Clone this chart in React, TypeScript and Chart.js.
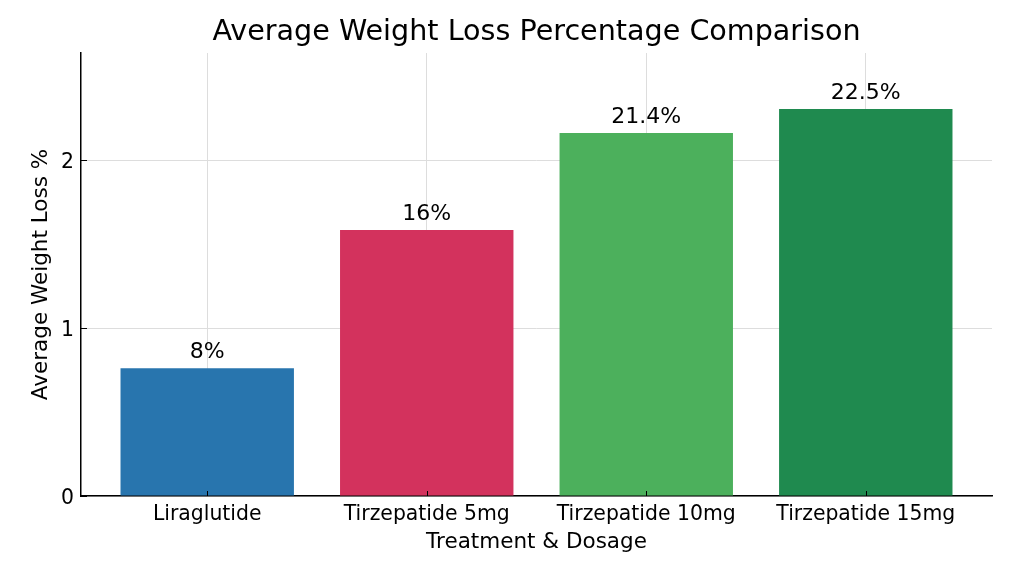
import { useEffect, useRef } from 'react';
import { Chart, registerables } from 'chart.js';

Chart.register(...registerables);

const categories = ['Liraglutide', 'Tirzepatide 5mg', 'Tirzepatide 10mg', 'Tirzepatide 15mg'];
const values = [0.762, 1.585, 2.163, 2.306];
const valueLabels = ['8%', '16%', '21.4%', '22.5%'];
const barColors = ['#2875ae', '#d3325d', '#4cb05c', '#1f8a4f'];
const yTicks = [0, 1, 2];

const FONT = "'DejaVu Sans', sans-serif";

// value text above each bar
const barLabels = {
  id: 'barLabels',
  afterDatasetsDraw(chart: any) {
    const { ctx } = chart;
    const meta = chart.getDatasetMeta(0);
    ctx.save();
    ctx.font = `22px ${FONT}`;
    ctx.fillStyle = '#000';
    ctx.textAlign = 'center';
    ctx.textBaseline = 'alphabetic';
    meta.data.forEach((bar: any, i: number) => {
      ctx.fillText(valueLabels[i], bar.x, bar.y - 10);
    });
    ctx.restore();
  },
};

// small inward tick marks like the original
const innerTicks = {
  id: 'innerTicks',
  afterDatasetsDraw(chart: any) {
    const { ctx, chartArea, scales } = chart;
    ctx.save();
    ctx.strokeStyle = '#000';
    ctx.lineWidth = 1;
    ctx.beginPath();
    categories.forEach((_, i) => {
      const px = Math.round(scales.x.getPixelForValue(i)) + 0.5;
      ctx.moveTo(px, chartArea.bottom);
      ctx.lineTo(px, chartArea.bottom - 5);
    });
    yTicks.forEach((v) => {
      const py = Math.round(scales.y.getPixelForValue(v)) + 0.5;
      ctx.moveTo(chartArea.left, py);
      ctx.lineTo(chartArea.left + 6, py);
    });
    ctx.stroke();
    ctx.restore();
  },
};

export default function App() {
  const canvasRef = useRef<HTMLCanvasElement>(null);

  useEffect(() => {
    if (!canvasRef.current) return;
    Chart.defaults.font.family = FONT;
    Chart.defaults.color = '#000';

    const chart = new Chart(canvasRef.current, {
      type: 'bar',
      data: {
        datasets: [
          {
            data: categories.map((_, i) => ({ x: i, y: values[i] })),
            backgroundColor: barColors,
            borderWidth: 0,
            categoryPercentage: 1,
            barPercentage: 0.79,
          },
        ],
      },
      options: {
        animation: false,
        responsive: true,
        maintainAspectRatio: false,
        layout: { padding: { left: 0, right: 32, top: 0, bottom: 0 } },
        plugins: {
          legend: { display: false },
          tooltip: { enabled: false },
          title: {
            display: true,
            text: 'Average Weight Loss Percentage Comparison',
            fullSize: false,
            font: { size: 28.6, weight: 'normal', lineHeight: 1.2 },
            color: '#000',
            padding: { top: 15.4, bottom: 3.3 },
          },
        },
        scales: {
          x: {
            type: 'linear',
            min: -0.575,
            max: 3.575,
            offset: false,
            afterFit: (s: any) => {
              s.height = 76;
            },
            afterBuildTicks: (s: any) => {
              s.ticks = categories.map((_, i) => ({ value: i }));
            },
            ticks: {
              autoSkip: false,
              maxRotation: 0,
              padding: 6,
              font: { size: 20.4 },
              callback: (v: any) => categories[v] ?? '',
            },
            grid: { color: '#dddddd', lineWidth: 1, drawTicks: false, offset: false },
            border: { color: '#000', width: 1.5 },
            title: {
              display: true,
              text: 'Treatment & Dosage',
              font: { size: 21.5, lineHeight: 1.2 },
              padding: { top: 0, bottom: 16.5 },
            },
          },
          y: {
            min: 0,
            max: 2.64,
            afterFit: (s: any) => {
              s.width = 81;
            },
            afterBuildTicks: (s: any) => {
              s.ticks = yTicks.map((v) => ({ value: v }));
            },
            ticks: {
              padding: 7,
              labelOffset: 2.5,
              font: { size: 20.4 },
            },
            grid: { color: '#dddddd', lineWidth: 1, drawTicks: false },
            border: { color: '#000', width: 1.5 },
            title: {
              display: true,
              text: 'Average Weight Loss %',
              font: { size: 21.5, lineHeight: 1.2 },
              padding: { top: 28.4, bottom: 0 },
            },
          },
        },
      },
      plugins: [barLabels, innerTicks],
    });

    return () => {
      chart.destroy();
    };
  }, []);

  return (
    <div style={{ position: 'fixed', left: 0, top: 0, width: 1024, height: 572, background: '#fff' }}>
      <canvas ref={canvasRef} />
    </div>
  );
}
